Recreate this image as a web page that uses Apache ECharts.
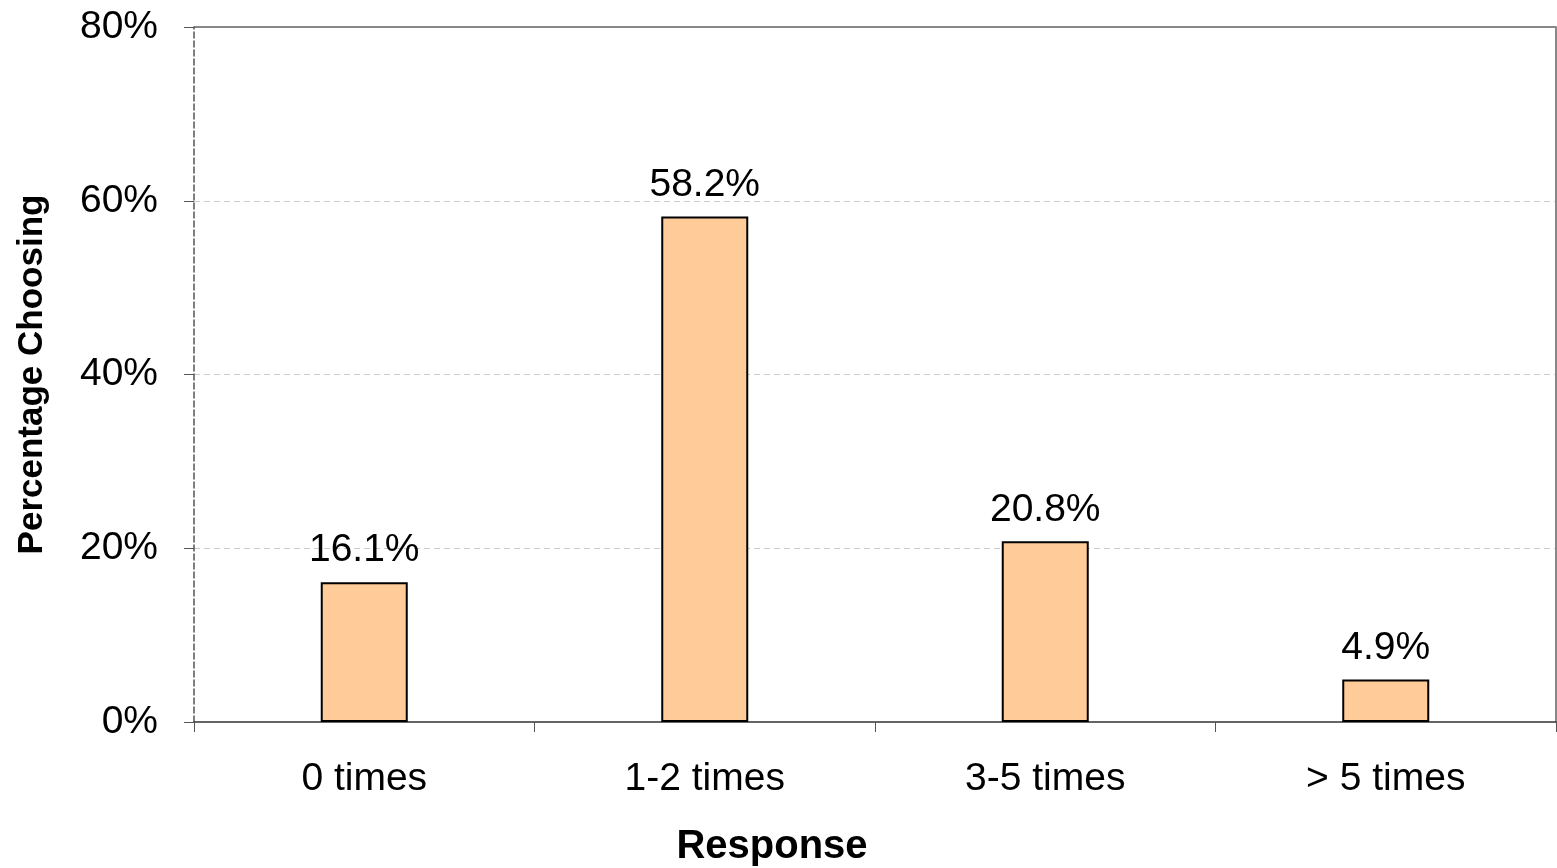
<!DOCTYPE html>
<html><head><meta charset="utf-8">
<script src="https://cdn.jsdelivr.net/npm/echarts@6/dist/echarts.min.js"></script>
<style>html,body{margin:0;padding:0;background:#fff}#c{width:1557px;height:868px}</style>
</head><body><div id="c"></div>
<script>
const categories = ['0 times', '1-2 times', '3-5 times', '> 5 times'];
const values = [16.1, 58.2, 20.8, 4.9];
const yTicks = [0, 20, 40, 60, 80];
const xTitle = 'Response';
const yTitle = 'Percentage Choosing';

const chart = echarts.init(document.getElementById('c'), null, {renderer: 'canvas'});
const font = 'Liberation Sans, Arial, sans-serif';
chart.setOption({
  animation: false,
  backgroundColor: '#fff',
  grid: {left: 194, right: 1, top: 27, bottom: 146, containLabel: false, outerBoundsMode: 'none'},
  graphic: [{
    type: 'text', position: [772, 847],
    style: {text: xTitle, x: 0, y: 0, fontFamily: font, fontSize: 40, fontWeight: 'bold', fill: '#000', align: 'center', verticalAlign: 'middle'}
  }],
  xAxis: [{
    type: 'category', data: categories, position: 'bottom',
    axisLine: {show: true, lineStyle: {color: '#333', width: 1.5}},
    axisTick: {show: true, alignWithLabel: false, length: 10, lineStyle: {color: '#555'}},
    axisLabel: {fontFamily: font, fontSize: 39, color: '#000', margin: 38}
  }],
  yAxis: [{
    type: 'value', min: yTicks[0], max: yTicks[yTicks.length - 1], interval: 20,
    axisLine: {show: true, lineStyle: {color: '#555', type: [6, 3], width: 1.5}},
    axisTick: {show: true, length: 10, lineStyle: {color: '#555'}},
    axisLabel: {fontFamily: font, fontSize: 39, color: '#000', margin: 36, formatter: v => v + '%'},
    splitLine: {show: true, showMinLine: false, showMaxLine: false, lineStyle: {color: '#ccc', type: [6, 4], width: 1}},
    name: yTitle, nameLocation: 'middle', nameGap: 144, nameRotate: 90,
    nameTextStyle: {fontFamily: font, fontSize: 35, fontWeight: 'bold', color: '#000'}
  }, {
    type: 'value', min: 0, max: 80, interval: 80, position: 'right',
    axisLine: {show: true, lineStyle: {color: '#888', width: 2}},
    axisTick: {show: false}, axisLabel: {show: false},
    splitLine: {show: true, showMinLine: false, showMaxLine: true, lineStyle: {color: '#888', type: 'solid', width: 2}}
  }],
  series: [{
    type: 'bar', data: values, barWidth: 87,
    itemStyle: {color: '#FFCC99', borderColor: '#000', borderWidth: 2},
    label: {show: true, position: 'top', distance: 12, fontFamily: font, fontSize: 39, color: '#000',
      formatter: p => p.value.toFixed(1) + '%'}
  }]
});
</script></body></html>
